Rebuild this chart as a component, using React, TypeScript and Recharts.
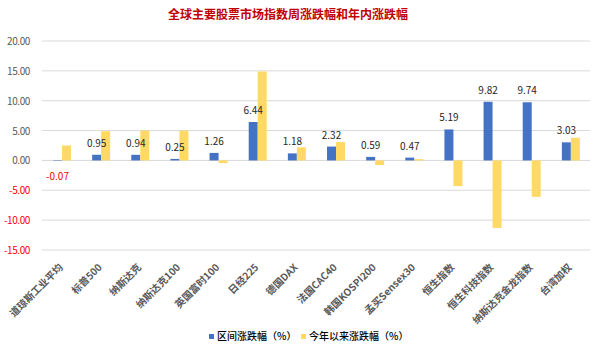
import React from "react";
import { BarChart, Bar, XAxis, YAxis, CartesianGrid, LabelList, Legend } from "recharts";

const categories = [
  "道琼斯工业平均", "标普500", "纳斯达克", "纳斯达克100", "英国富时100", "日经225", "德国DAX",
  "法国CAC40", "韩国KOSPI200", "孟买Sensex30", "恒生指数", "恒生科技指数", "纳斯达克金龙指数", "台湾加权",
];
const weekChange = [-0.07, 0.95, 0.94, 0.25, 1.26, 6.44, 1.18, 2.32, 0.59, 0.47, 5.19, 9.82, 9.74, 3.03];
const ytdChange = [2.5, 4.9, 5.0, 5.0, -0.45, 14.9, 2.2, 3.08, -0.78, 0.22, -4.3, -11.3, -6.1, 3.8];
const yTicks = [-15, -10, -5, 0, 5, 10, 15, 20];
const seriesNames = ["区间涨跌幅（%）", "今年以来涨跌幅（%）"];
const title = "全球主要股票市场指数周涨跌幅和年内涨跌幅";

const data = categories.map((c, i) => ({ name: c, week: weekChange[i], ytd: ytdChange[i] }));

const FONT = '"Noto Sans CJK SC", "Noto Sans", sans-serif';
const BLUE = "#4472C4";
const YELLOW = "#FFD966";

const XTick = (props: any) => {
  const { x, y, payload } = props;
  const ax = x + 2;
  const ay = y + 10;
  return (
    <text x={ax} y={ay} transform={`rotate(-45, ${ax}, ${ay})`} textAnchor="end"
      fontSize={10} fontFamily={FONT} fill="#595959" fontWeight="bold">
      {payload.value}
    </text>
  );
};

const YTick = (props: any) => {
  const { y, payload } = props;
  const v = payload.value as number;
  return (
    <text x={30} y={y} dy={4} textAnchor="end" fontSize={10} fontFamily={FONT} letterSpacing={-0.4}
      fill={v < 0 ? "#FF0000" : "#595959"}>
      {v.toFixed(2)}
    </text>
  );
};

const WeekLabel = (props: any) => {
  const { x, y, width, height, value } = props;
  const cx = x + width / 2;
  if (value < 0) {
    const bottom = y + Math.max(height, 0);
    return (
      <text x={cx} y={bottom + 19} textAnchor="middle" fontSize={10} fontFamily={FONT} fill="#FF0000">
        {value.toFixed(2)}
      </text>
    );
  }
  return (
    <text x={cx} y={y - 8} textAnchor="middle" fontSize={10} fontFamily={FONT} fill="#262626">
      {value.toFixed(2)}
    </text>
  );
};

const legendLefts = [209, 301];

const LegendContent = () => (
  <div style={{ position: "relative", width: 602, height: 16, fontFamily: FONT, fontSize: 10, color: "#000" }}>
    {[BLUE, YELLOW].map((c, i) => (
      <div key={i} style={{ position: "absolute", left: legendLefts[i], top: 0, display: "flex", alignItems: "center",
        whiteSpace: "nowrap", lineHeight: "14px" }}>
        <span style={{ width: 5, height: 5, background: c, display: "inline-block", marginRight: 3 }} />
        <span style={{ fontWeight: 500 }}>{seriesNames[i]}</span>
      </div>
    ))}
  </div>
);

export default function App() {
  return (
    <div style={{ position: "absolute", left: 0, top: 0, width: 602, height: 353, background: "#fff" }}>
      <div style={{ position: "absolute", left: 168, top: 5, width: 186, textAlign: "center", fontFamily: FONT,
        fontSize: 12, fontWeight: "bold", color: "#C00000", whiteSpace: "nowrap", lineHeight: "18px" }}>
        {title}
      </div>
      <BarChart width={602} height={353} data={data} margin={{ top: 41, right: 12, left: 0, bottom: 0 }}
        barGap={0} barCategoryGap="27%">
        <CartesianGrid vertical={false} stroke="#D9D9D9" />
        <XAxis dataKey="name" height={103} axisLine={false} tickLine={false} interval={0} tick={<XTick />} />
        <YAxis width={42} domain={[-15, 20]} ticks={yTicks} axisLine={false} tickLine={false}
          tick={<YTick />} />
        <Legend layout="horizontal" verticalAlign="middle" align="center" content={<LegendContent />}
          wrapperStyle={{ position: "absolute", top: 329, left: 0, width: 602 }} />
        <Bar dataKey="week" name={seriesNames[0]} fill={BLUE} barSize={9} isAnimationActive={false}>
          <LabelList dataKey="week" content={<WeekLabel />} />
        </Bar>
        <Bar dataKey="ytd" name={seriesNames[1]} fill={YELLOW} barSize={9} isAnimationActive={false} />
      </BarChart>
    </div>
  );
}
